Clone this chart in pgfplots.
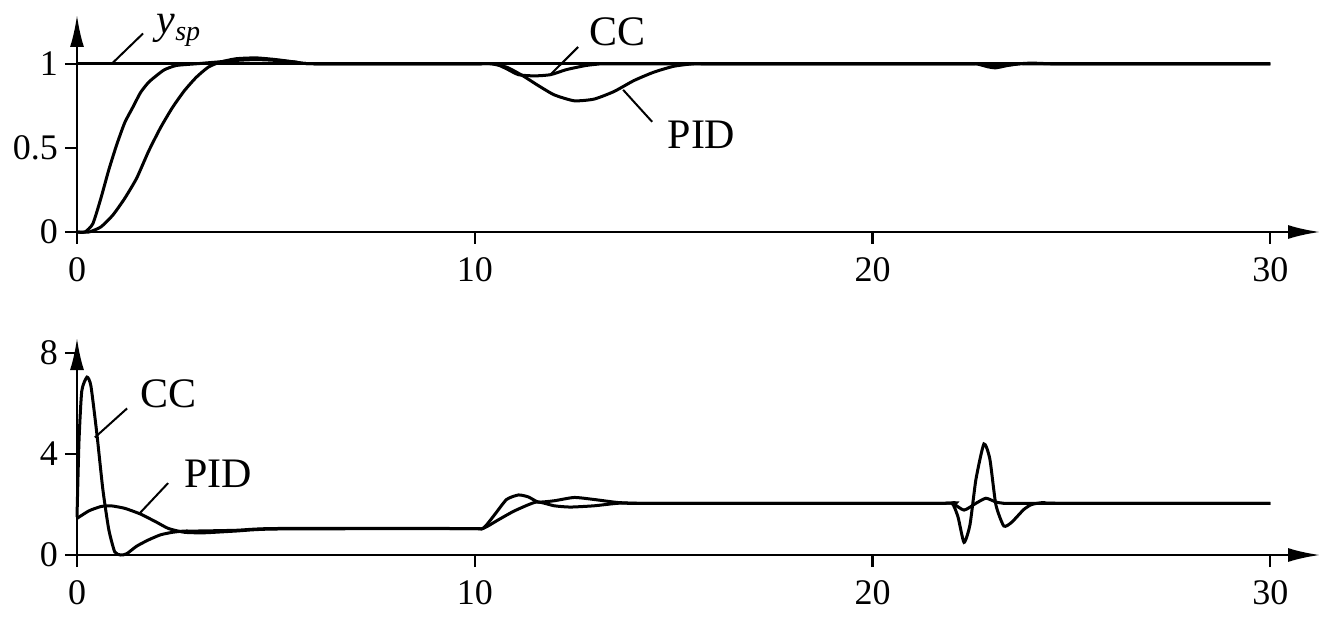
\documentclass[border=0pt]{standalone}
\usepackage{pgfplots}
\pgfplotsset{compat=1.18}
\usepackage{fontspec}
\setmainfont{Liberation Serif}
\usetikzlibrary{arrows.meta}
\begin{document}
\begin{tikzpicture}
\pgfplotsset{
  myaxis/.style={
    scale only axis, width=621.5pt, height=108.5pt,
    axis lines=left, xmin=0, xmax=31.25,
    xtick={0,10,20,30}, tick align=outside, major tick length=6pt,
    axis line style={line width=1.2pt},
    every outer x axis line/.append style={-{Latex[length=16pt,width=7pt]}},
    every outer y axis line/.append style={-{Latex[length=16pt,width=7pt]}},
    tick style={line width=1.1pt, black},
    ticklabel style={font=\fontsize{18}{20}\selectfont},
    xticklabel style={yshift=-3pt},
    /pgf/number format/assume math mode=true,
    clip=false,
    every axis plot post/.append style={black, line width=1.5pt, mark=none, smooth, tension=0.35},
  }
}
% ---------- top axis ----------
\begin{axis}[myaxis, ymin=0, ymax=1.29, ytick={0,0.5,1},
  yticklabels={0,0.5,1}]
\addplot coordinates {(0,1) (30,1)};
% CC
\addplot coordinates {(0,0) (0.2,0) (0.4,0.05) (0.6,0.2) (0.8,0.37) (1.0,0.52) (1.2,0.65) (1.4,0.74) (1.6,0.83) (1.8,0.89) (2.0,0.93) (2.2,0.965) (2.5,0.99) (3,1.0) (3.5,1.01) (4,1.02) (4.5,1.025) (5,1.02) (5.5,1.01) (6,1.0) (10.0,1.0) (10.5,1.0) (10.8,0.97) (11.1,0.935) (11.5,0.928) (11.9,0.935) (12.3,0.965) (12.8,0.99) (13.2,1.0) (13.6,1.0) (22.2,1.0) (22.6,1.0) (22.9,0.982) (23.1,0.976) (23.4,0.99) (23.7,1.0) (24.0,1.004) (24.5,1.0) (25,1.0) (30,1)};
% PID
\addplot coordinates {(0,0) (0.3,0) (0.6,0.03) (0.9,0.1) (1.2,0.2) (1.5,0.32) (1.8,0.48) (2.1,0.62) (2.4,0.74) (2.7,0.84) (3.0,0.92) (3.3,0.98) (3.6,1.01) (4.0,1.03) (4.5,1.035) (5,1.025) (5.5,1.01) (6.0,1.0) (10.0,1.0) (10.4,1.0) (10.8,0.98) (11.2,0.93) (11.6,0.87) (12.0,0.815) (12.5,0.78) (13.0,0.79) (13.5,0.835) (14.0,0.9) (14.5,0.95) (15.0,0.985) (15.5,1.0) (16,1.0) (22.3,1.0) (22.7,1.0) (23.0,0.986) (23.3,0.99) (23.7,1.0) (24.1,1.0) (30,1)};
\draw[line width=1pt] (axis cs:0.9,1.006) -- (axis cs:1.66,1.18);
\node[font=\fontsize{21}{24}\selectfont] at (axis cs:2.55,1.2) {\itshape y\raisebox{-0.35ex}{\fontsize{14}{16}\selectfont\itshape sp}};
\draw[line width=1pt] (axis cs:11.9,0.935) -- (axis cs:12.6,1.10);
\node[font=\fontsize{21}{24}\selectfont] at (axis cs:13.6,1.19) {CC};
\draw[line width=1pt] (axis cs:13.73,0.845) -- (axis cs:14.46,0.655);
\node[font=\fontsize{21}{24}\selectfont] at (axis cs:15.7,0.577) {PID};
\end{axis}
% ---------- bottom axis ----------
\begin{axis}[myaxis, at={(0pt,-161.5pt)}, ymin=0, ymax=8.6, ytick={0,4,8}]
% CC
\addplot coordinates {(0,1.5) (0.05,4.5) (0.12,6.5) (0.25,7.05) (0.35,6.7) (0.5,4.8) (0.65,2.6) (0.8,1.0) (0.95,0.12) (1.1,0) (1.25,0.05) (1.5,0.35) (1.8,0.6) (2.1,0.8) (2.4,0.9) (2.7,0.95) (3,0.95) (4,0.98) (5,1.05) (9.8,1.05) (10.2,1.05) (10.5,1.6) (10.8,2.2) (11.1,2.38) (11.35,2.3) (11.6,2.1) (12,2.15) (12.5,2.28) (13,2.2) (13.6,2.08) (14.1,2.05) (14.5,2.05) (21.7,2.05) (22.0,2.05) (22.15,1.5) (22.3,0.5) (22.45,1.2) (22.6,3.0) (22.8,4.4) (22.95,3.8) (23.1,2.0) (23.3,1.15) (23.5,1.3) (23.8,1.8) (24.0,2.0) (24.3,2.08) (24.7,2.05) (30,2.05)};
% PID
\addplot coordinates {(0,1.45) (0.3,1.75) (0.6,1.92) (0.85,1.95) (1.2,1.85) (1.6,1.62) (2.0,1.3) (2.3,1.05) (2.7,0.9) (3.2,0.88) (4,0.95) (5,1.03) (9.8,1.05) (10.2,1.05) (10.6,1.4) (11.0,1.75) (11.55,2.1) (12.0,1.95) (12.4,1.9) (13.0,1.95) (13.6,2.05) (14.2,2.05) (21.6,2.05) (22.0,2.05) (22.3,1.78) (22.6,2.05) (22.85,2.25) (23.1,2.1) (23.3,2.05) (23.7,2.05) (30,2.05)};
\draw[line width=1pt] (axis cs:0.45,4.66) -- (axis cs:1.26,5.81);
\node[font=\fontsize{21}{24}\selectfont] at (axis cs:2.3,6.4) {CC};
\draw[line width=1pt] (axis cs:1.58,1.66) -- (axis cs:2.29,2.85);
\node[font=\fontsize{21}{24}\selectfont] at (axis cs:3.55,3.2) {PID};
\end{axis}
\pgfresetboundingbox
\path[use as bounding box] (-38.5pt,-194pt) rectangle (624.5pt,116pt);
\end{tikzpicture}
\end{document}
